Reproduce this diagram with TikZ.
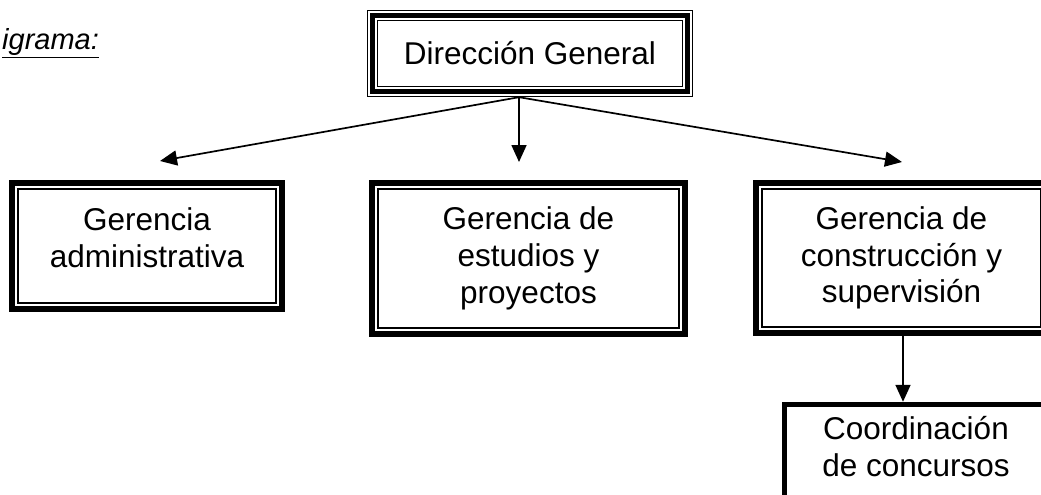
\documentclass[tikz,border=0pt]{standalone}
\usepackage{fontspec}
\setmainfont{Liberation Sans}
\usepackage{tikz}
\usetikzlibrary{arrows.meta}
\usetikzlibrary{positioning}
\usetikzlibrary{calc}
\def\boxfont{\fontsize{31.5}{36.7}\selectfont}
% thick line outside, thin line inside
\newcommand\thickthin[1]{%
    \draw[line width=6pt] ([shift={(3pt,-3pt)}]#1.north west) rectangle
    ([shift={(-3pt,3pt)}]#1.south east);
    \draw[line width=1.5pt] ([shift={(9pt,-9pt)}]#1.north west) rectangle
    ([shift={(-9pt,9pt)}]#1.south east);}
% thin, thick, thin
\newcommand\thinthickthin[1]{%
    \foreach \d/\w in {0.75/1.5, 5.5/5, 10.75/1.5}
        \draw[line width=\w pt] ([shift={(\d pt,-\d pt)}]#1.north west) rectangle
        ([shift={(-\d pt,\d pt)}]#1.south east);}

\begin{document}
\begin{tikzpicture}[x=1pt, y=-1pt,
        unit/.style={align=center, inner sep=0pt, font=\boxfont},
        link/.style={->, >={Triangle[length=17pt,width=15pt]}, line width=1.7pt}]
        \useasboundingbox (0,0) rectangle (1041,495);

        \node[anchor=base west, inner xsep=0pt, font=\fontsize{29}{32}\selectfont\itshape]
        (title) at (2,50) {\underline{igrama:}};

        \node[unit, minimum width=326pt, minimum height=87pt] (dg) at (530,53.5)
        {Dirección General};
        \node[unit, minimum width=276pt, minimum height=132pt, text depth=17pt] (ga)
        at (147,246) {Gerencia\\administrativa};
        \node[unit, minimum width=319pt, minimum height=157pt] (gep) at (528.5,258.5)
        {Gerencia de\\estudios y\\proyectos};
        \node[unit, minimum width=297pt, minimum height=156pt] (gcs) at (901.5,258)
        {Gerencia de\\construcción y\\supervisión};
        \node[unit, minimum width=268pt, minimum height=120pt, text depth=31pt] (cc)
        at (916,462) {Coordinación\\de concursos};

        \thinthickthin{dg}
        \thickthin{ga}
        \thickthin{gep}
        \thickthin{gcs}
        \draw[line width=5.5pt] ([shift={(2.75pt,-2.75pt)}]cc.north west) rectangle
        ([shift={(-2.75pt,2.75pt)}]cc.south east);

        % arrows out of the head office
        \coordinate (split) at ($(dg.south)+(-11,0)$);
        \coordinate (toGa) at (160,161);
        \coordinate (toGep) at (519,162);
        \coordinate (toGcs) at (902,162);
        \draw[link] (split) -- (toGa);
        \draw[link] (split) -- (toGep);
        \draw[link] (split) -- (toGcs);

        \draw[link] ([xshift=1.5pt]gcs.south) -- ([xshift=1.5pt]gcs.south |- cc.north);
    \end{tikzpicture}
\end{document}
